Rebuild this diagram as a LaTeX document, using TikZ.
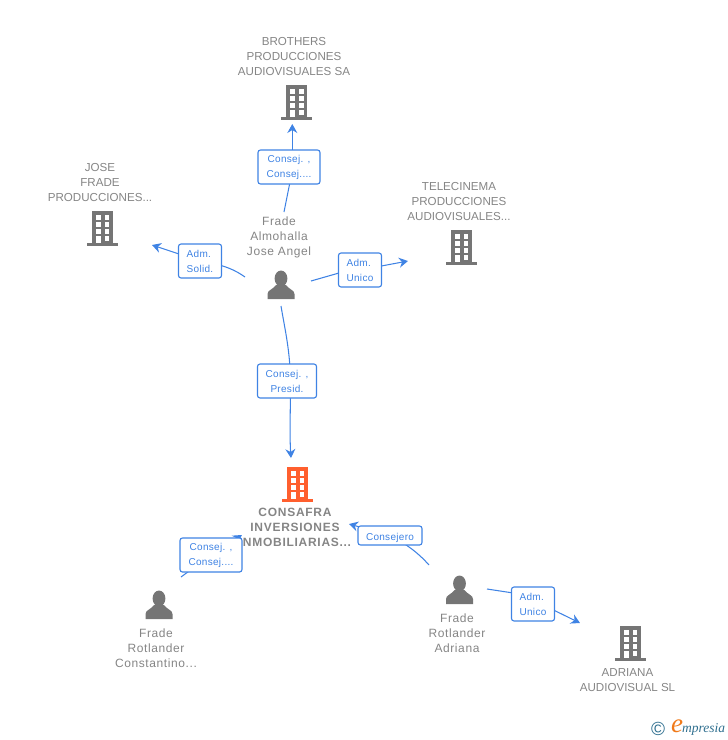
\documentclass[tikz,border=0pt]{standalone}
\usepackage{fontspec}
\setmainfont{Liberation Sans}
\newfontfamily\logofont{Liberation Serif}
\newfontfamily\persfont[LetterSpace=5]{Liberation Sans}
\newfontfamily\corefont[LetterSpace=6]{Liberation Sans}
\newfontfamily\tagfont[LetterSpace=3]{Liberation Sans}
\usetikzlibrary{arrows.meta}
\definecolor{edgeblue}{HTML}{3F83E4}
\definecolor{icongray}{HTML}{757575}
\definecolor{txtgray}{HTML}{858585}
\definecolor{accent}{HTML}{FF5F2E}
\definecolor{logoteal}{HTML}{2F6F8F}
\definecolor{logoorange}{HTML}{F07A1A}
\tikzset{
  x=1pt,y=-1pt,
  lbl/.style={align=center,text=txtgray,font=\fontsize{11.6}{15}\selectfont,inner sep=0pt},
  lblp/.style={lbl,font=\persfont\fontsize{12}{15}\selectfont},
  lblb/.style={lbl,font=\corefont\fontsize{12}{15}\bfseries\selectfont},
  tag/.style={draw=edgeblue,line width=1.1pt,rounded corners=2.5pt,fill=white,text=edgeblue,align=center,
    font=\tagfont\fontsize{10}{15}\selectfont,inner sep=0pt,execute at begin node={\rule{0pt}{13pt}}},
  tagl/.style={tag,align=left},
  link/.style={draw=edgeblue,line width=1.05pt},
  linka/.style={link,-{Stealth[length=9pt,width=10pt,inset=3pt]}},
  pics/tower/.style={code={
    \fill[#1] (-10.5,-17) rectangle (10.5,15);
    \fill[#1] (-15.5,15) rectangle (15.5,17.5);
    \foreach \yy in {-13,-6,1}{
      \fill[white] (-6.5,\yy) rectangle (-1.5,\yy+4.5);
      \fill[white] (2.5,\yy) rectangle (7,\yy+4.5);}
    \fill[white] (2.5,8) rectangle (7,12.5);
    \fill[white] (-6.5,8) rectangle (-1.5,15);
  }},
  pics/human/.style={code={
    \fill[icongray] (0,-6.5) ellipse (6.4 and 8);
    \fill[icongray] (-13.5,14) -- (-13.5,9) .. controls (-13.5,5) and (-8,4.5) .. (-5,0)
      -- (5,0) .. controls (8,4.5) and (13.5,5) .. (13.5,9) -- (13.5,14) -- cycle;
  }}
}
\begin{document}
\begin{tikzpicture}
\useasboundingbox (0,0) rectangle (728,740);
% icons
\pic at (296.5,102) {tower=icongray};
\pic at (102,228) {tower=icongray};
\pic at (461,247) {tower=icongray};
\pic at (297,484) {tower=accent};
\pic at (630,643) {tower=icongray};
\pic at (281,285) {human};
\pic at (159,605) {human};
\pic at (459.5,590) {human};
% texts
\node[lbl] (brothers) at (294,56.5) {BROTHERS\\PRODUCCIONES\\AUDIOVISUALES SA};
\node[lbl] (jose) at (100,183) {JOSE\\FRADE\\PRODUCCIONES...};
\node[lbl] (tele) at (459,202) {TELECINEMA\\PRODUCCIONES\\AUDIOVISUALES...};
\node[lblp] (almo) at (279,237) {Frade\\Almohalla\\Jose Angel};
\node[lblb] (cons) at (295,527.5) {CONSAFRA\\INVERSIONES\\INMOBILIARIAS...};
\node[lblp] (consta) at (156,648) {Frade\\Rotlander\\Constantino...};
\node[lblp] (adri) at (457,633) {Frade\\Rotlander\\Adriana};
\node[lbl] (adav) at (627.5,680.5) {ADRIANA\\AUDIOVISUAL SL};
% free ends
\coordinate (a1) at (284,212);
\coordinate (e1) at (292.3,124);
\coordinate (a2) at (245,277);
\coordinate (e2) at (152,245);
\coordinate (a3) at (311,281);
\coordinate (e3) at (408,261);
\coordinate (a4) at (281,306);
\coordinate (e4) at (291,458);
\coordinate (a5) at (181,577);
\coordinate (e5) at (242,535);
\coordinate (a6) at (429,565);
\coordinate (e6) at (349,524);
\coordinate (a7) at (487,589);
\coordinate (e7) at (580,623);
% connectors (the tags are drawn over them)
\draw[link] (a1) -- (293,167);
\draw[linka] (292.3,167) -- (e1);
\draw[link] (a2) .. controls (235,270) and (225,265) .. (200,261);
\draw[linka] (200,261) -- (e2);
\draw[link] (a3) -- (360,267);
\draw[linka] (360,270) -- (e3);
\draw[link] (a4) .. controls (285,330) and (290,350) .. (290.5,381);
\draw[linka] (290.5,381) .. controls (290.5,410) and (289.5,435) .. (e4);
\draw[link] (a5) -- (211,555);
\draw[linka] (211,555) -- (e5);
\draw[link] (a6) .. controls (420,555) and (410,546) .. (390,535.5);
\draw[linka] (390,535.5) -- (e6);
\draw[link] (a7) -- (533,596);
\draw[linka] (533,600) -- (e7);
% tags
\node[tag,minimum width=62pt,minimum height=34pt] (t1) at (289,167) {Consej. ,\\Consej....};
\node[tagl,minimum width=43pt,minimum height=34pt] (t2) at (200,261) {Adm.\\Solid.};
\node[tagl,minimum width=43pt,minimum height=34pt] (t3) at (360,270) {Adm.\\Unico};
\node[tag,minimum width=59pt,minimum height=34pt] (t4) at (287,381) {Consej. ,\\Presid.};
\node[tag,minimum width=62pt,minimum height=34pt] (t5) at (211,555) {Consej. ,\\Consej....};
\node[tag,minimum width=64pt,minimum height=19pt] (t6) at (390,535.5) {Consejero};
\node[tagl,minimum width=43pt,minimum height=34pt] (t7) at (533,604) {Adm.\\Unico};
% logo
\node[inner sep=0pt,text=logoteal,font=\fontsize{19}{19}\selectfont] (copy) at (658,729) {©};
\node[inner sep=0pt,text=logoorange,font=\logofont\itshape\fontsize{27}{27}\selectfont] (elogo) at (677,726) {e};
\node[inner sep=0pt,anchor=west,text=logoteal,font=\logofont\itshape\fontsize{13.5}{13}\selectfont] (mpr) at (682,729) {mpresia};
\end{tikzpicture}
\end{document}
